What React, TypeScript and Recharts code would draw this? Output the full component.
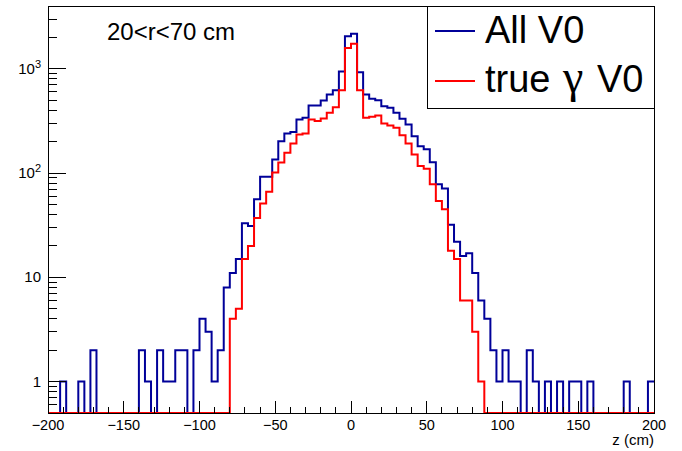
import { Line, LineChart, XAxis, YAxis } from "recharts";

// histogram binning: 100 bins of 4 cm from -200 to 200
const zLow = -200;
const zHigh = 200;
const binWidth = 4;

// counts per bin
const allV0 = [
  0, 0, 1, 0, 0, 1, 0, 2, 0, 0,
  0, 0, 0, 0, 0, 2, 1, 0, 2, 1,
  1, 2, 2, 0, 2, 4, 3, 1, 2, 8,
  11, 15, 33, 31, 56, 92, 92, 135, 202, 240,
  247, 326, 339, 444, 444, 497, 566, 622, 940, 2047,
  2172, 926, 566, 515, 500, 438, 422, 378, 332, 292,
  226, 181, 169, 127, 78, 71, 32, 22, 16, 17,
  11, 6, 4, 2, 1, 2, 1, 1, 0, 2,
  1, 0, 1, 0, 1, 0, 1, 1, 0, 1,
  0, 0, 0, 0, 0, 1, 0, 0, 0, 1,
];

const trueGammaV0 = [
  0, 0, 0, 0, 0, 0, 0, 0, 0, 0,
  0, 0, 0, 0, 0, 0, 0, 0, 0, 0,
  0, 0, 0, 0, 0, 0, 0, 0, 0, 0,
  4, 5, 15, 20, 37, 51, 66, 101, 126, 157,
  192, 234, 240, 326, 315, 334, 378, 428, 622, 1581,
  1742, 622, 339, 347, 357, 299, 286, 272, 230, 192,
  151, 117, 110, 78, 54, 45, 18, 15, 6, 6,
  3, 1, 0, 0, 0, 0, 0, 0, 0, 0,
  0, 0, 0, 0, 0, 0, 0, 0, 0, 0,
  0, 0, 0, 0, 0, 0, 0, 0, 0, 0,
];

const seriesNames = ["All V0", "true \u03b3 V0"];
const seriesColors = ["#000099", "#ff0000"];

const yMin = 0.5;
const yMax = 4000;
const yMajorTicks = [1, 10, 100, 1000];
const yTickLabels = ["1", "10", "10^2", "10^3"];
const xMajorStep = 50;
const xMinorStep = 10;

const FONT = "'Liberation Sans', Arial, Helvetica, sans-serif";
const GREEK_FONT = "'Liberation Serif', 'DejaVu Serif', serif";

// log axis can't show 0, so empty bins sit on the floor like in ROOT
const rows = allV0.map((v, i) => ({
  z: zLow + i * binWidth,
  all: Math.max(v, yMin),
  gamma: Math.max(trueGammaV0[i], yMin),
}));
rows.push({ ...rows[rows.length - 1], z: zHigh });

const xTicks: number[] = [];
for (let z = zLow; z <= zHigh; z += xMinorStep) xTicks.push(z);

const yTicks: number[] = [];
for (let d = 0.1; d <= 1000; d *= 10) {
  for (let m = 1; m <= 9; m++) {
    const v = Math.round(m * d * 10) / 10;
    if (v > yMin && v < yMax) yTicks.push(v);
  }
}

function XTick({ x, y, payload }: any) {
  const major = payload.value % xMajorStep === 0;
  const label = String(payload.value).replace("-", "\u2212");
  return (
    <g>
      <line x1={x} x2={x} y1={y} y2={y - (major ? 12 : 6)} stroke="#000" shapeRendering="crispEdges" />
      {major && (
        <text x={x} y={y + 17} textAnchor="middle" fontSize={14.5} fontFamily={FONT} fill="#000">
          {label}
        </text>
      )}
    </g>
  );
}

function YTick({ x, y, payload }: any) {
  const idx = yMajorTicks.indexOf(payload.value);
  const major = idx >= 0;
  let base = "";
  let exp = "";
  if (major) [base, exp = ""] = yTickLabels[idx].split("^");
  return (
    <g>
      <line x1={x} x2={x + (major ? 18 : 9)} y1={y} y2={y} stroke="#000" shapeRendering="crispEdges" />
      {major && (
        <text x={x - 7} y={y + 5} textAnchor="end" fontSize={15} fontFamily={FONT} fill="#000">
          {base}
          {exp && (
            <tspan fontSize={11} dy={-6}>
              {exp}
            </tspan>
          )}
        </text>
      )}
    </g>
  );
}

// greek letters in a serif face, like ROOT's symbol font
function LegendText({ text }: { text: string }) {
  return (
    <>
      {text.split(/(\u03b3)/).map((part, i) =>
        part === "\u03b3" ? (
          <tspan key={i} fontFamily={GREEK_FONT} fontSize={46} dx={2}>
            {part}
          </tspan>
        ) : (
          <tspan key={i} dx={i > 0 ? 3 : 0}>
            {part}
          </tspan>
        )
      )}
    </>
  );
}

export default function App() {
  return (
    <div style={{ position: "relative", width: 682, height: 451, background: "#fff", fontFamily: FONT }}>
      <style>{"body{margin:0}"}</style>
      <LineChart width={682} height={451} data={rows} margin={{ top: 6, right: 28, bottom: 0, left: 0 }}>
        <XAxis
          dataKey="z"
          type="number"
          domain={[zLow, zHigh]}
          ticks={xTicks}
          interval={0}
          height={38}
          tickSize={0}
          tickMargin={0}
          axisLine={false}
          tickLine={false}
          tick={(p: any) => <XTick {...p} />}
        />
        <YAxis
          scale="log"
          domain={[yMin, yMax]}
          ticks={yTicks}
          interval={0}
          width={48}
          tickSize={0}
          tickMargin={0}
          axisLine={false}
          tickLine={false}
          tick={(p: any) => <YTick {...p} />}
        />
        <Line
          type="stepAfter"
          dataKey="all"
          name={seriesNames[0]}
          stroke={seriesColors[0]}
          strokeWidth={2}
          dot={false}
          activeDot={false}
          isAnimationActive={false}
        />
        <Line
          type="stepAfter"
          dataKey="gamma"
          name={seriesNames[1]}
          stroke={seriesColors[1]}
          strokeWidth={2}
          dot={false}
          activeDot={false}
          isAnimationActive={false}
        />
      </LineChart>

      {/* frame, pad text and legend drawn on top, ROOT style */}
      <svg width={682} height={451} style={{ position: "absolute", left: 0, top: 0, pointerEvents: "none" }}>
        <rect x={48.5} y={6.5} width={606} height={407} fill="none" stroke="#000" />
        <text x={107} y={40} fontSize={24} fontFamily={FONT} fill="#000">
          20&lt;r&lt;70 cm
        </text>
        <text x={654} y={445} textAnchor="end" fontSize={15} fontFamily={FONT} fill="#000">
          z (cm)
        </text>
        <rect x={427.5} y={6.5} width={227} height={102} fill="#fff" stroke="#000" />
        {seriesNames.map((name, i) => (
          <g key={name}>
            <line x1={435} x2={475} y1={31 + i * 50} y2={31 + i * 50} stroke={seriesColors[i]} strokeWidth={2} />
            <text x={485} y={43 + i * 49} fontSize={38} fontFamily={FONT} fill="#000">
              <LegendText text={name} />
            </text>
          </g>
        ))}
      </svg>
    </div>
  );
}
